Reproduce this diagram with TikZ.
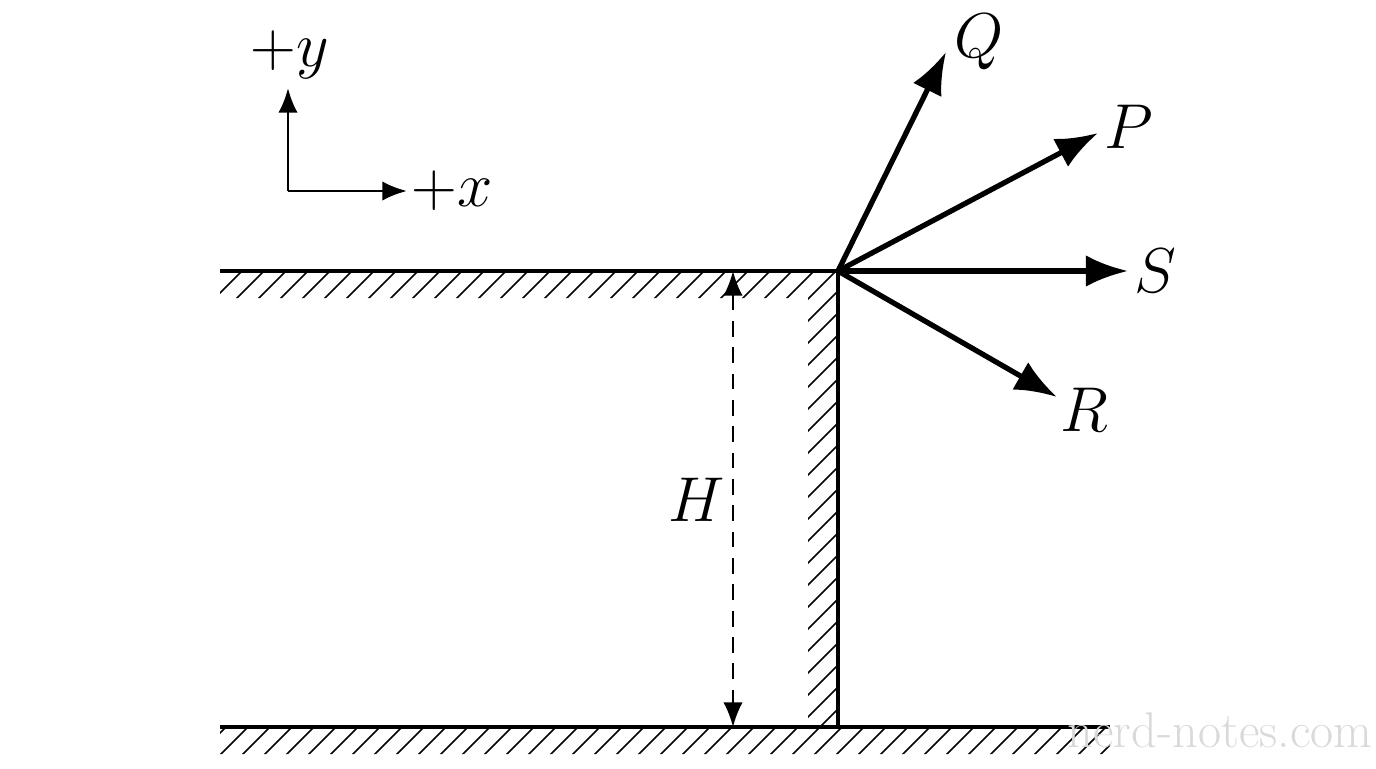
\documentclass[tikz,border=0pt]{standalone}
\usepackage{amsmath}
\usepackage{graphicx}
\usetikzlibrary{arrows.meta}
\newcommand\biglbl[1]{\scalebox{1.45}{$#1$}}
\begin{document}
\begin{tikzpicture}[x=0.02cm,y=-0.02cm,
  wall/.style={line width=2pt},
  hatch/.style={line width=0.9pt},
  vec/.style={line width=3pt,-{Latex[length=24pt,width=18pt]}},
  axis/.style={line width=1.6pt,-{Latex[length=14pt,width=11pt]}},
  lbl/.style={font=\fontsize{24.88}{30}\selectfont}]
\useasboundingbox (0,0) rectangle (1376,768);

% hatching
\begin{scope}
\clip (220,271) rectangle (838,298) (808,271) rectangle (838,727) (220,727) rectangle (1110,754);
\foreach \i in {0,22,...,1900}
  \draw[hatch] (\i,271) -- ++(-600,600);
\end{scope}

% walls
\coordinate (tl) at (220,271);
\coordinate (corner) at (838,271);
\coordinate (foot) at (838,727);
\coordinate (bl) at (220,727);
\coordinate (br) at (1110,727);
\draw[wall] (tl) -- (corner) -- (foot);
\draw[wall] (bl) -- (br);

% height
\coordinate (htop) at (733,271);
\coordinate (hbot) at (733,727);
\draw[line width=1.3pt,dash pattern=on 9pt off 6pt,{Latex[length=14pt,width=11pt]}-{Latex[length=14pt,width=11pt]}] (htop) -- (hbot);
\node[lbl] (H) at (697,500) {\biglbl{H}};

% axes
\coordinate (o) at (288,191);
\node[lbl] (ylab) at (290,55) {\biglbl{+y}};
\node[lbl] (xlab) at (452,191) {\biglbl{+x}};
\draw[axis] (o) -- (288,88);
\draw[axis] (o) -- (407,191);

% vectors
\node[lbl,anchor=west] (Q) at (948,42) {\biglbl{Q}};
\node[lbl,anchor=west] (P) at (1098,127) {\biglbl{P}};
\node[lbl,anchor=west] (S) at (1128,271) {\biglbl{S}};
\node[lbl,anchor=west] (R) at (1054,410) {\biglbl{R}};
\draw[vec] (corner) -- (946,52);
\draw[vec] (corner) -- (1098,133);
\draw[vec] (corner) -- (1128,271);
\draw[vec] (corner) -- (1057,397);

\node[text=black!15,font=\fontsize{24.88}{30}\selectfont] (wm) at (1220,730) {\scalebox{1.15}{nerd-notes.com}};
\end{tikzpicture}
\end{document}
